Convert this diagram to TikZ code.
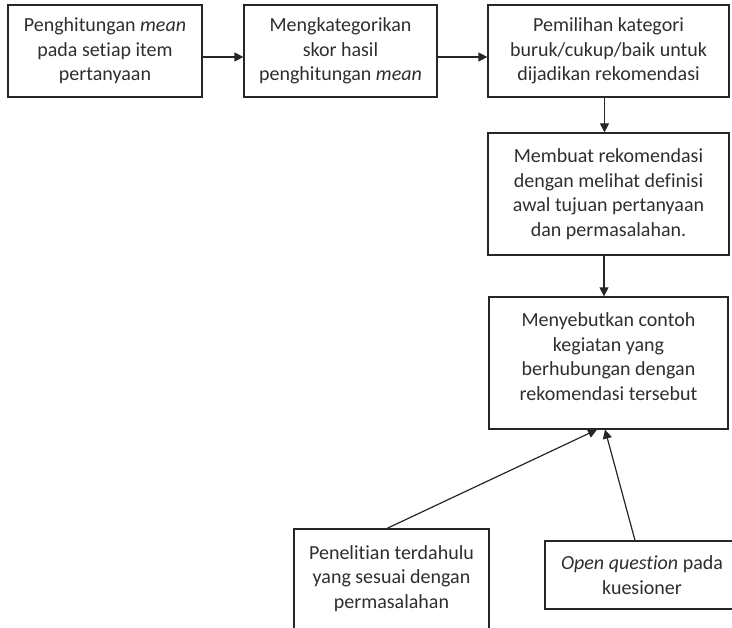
\documentclass[tikz,border=0pt]{standalone}
\usepackage{fontspec}
\setmainfont{Carlito}[Ligatures=NoCommon]
\usetikzlibrary{arrows.meta}
\definecolor{ink}{HTML}{262626}
\definecolor{txt}{HTML}{2E2E2E}
\begin{document}
\begin{tikzpicture}[x=1pt,y=-1pt,
  box/.style={draw=ink,line width=1.2pt,rectangle,align=center,inner sep=0pt,
    text=txt,font=\fontsize{20}{24.5}\selectfont},
  flow/.style={draw=ink,line width=1.2pt,-{Triangle[length=9pt,width=9pt]}}]
\useasboundingbox (0,0) rectangle (732,628);
\clip (0,0) rectangle (732,628);
% top row
\node[box,minimum width=194pt,minimum height=92pt] (b1) at (105,51)
  {Penghitungan \textit{mean}\\pada setiap item\\pertanyaan};
\node[box,minimum width=193pt,minimum height=92pt] (b2) at (340.5,51)
  {Mengkategorikan\\skor hasil\\penghitungan \textit{mean}};
\node[box,minimum width=241pt,minimum height=92pt] (b3) at (608.5,51)
  {Pemilihan kategori\\buruk/cukup/baik untuk\\dijadikan rekomendasi};
% right column
\node[box,minimum width=241pt,minimum height=122pt] (b4) at (608.5,194)
  {Membuat rekomendasi\\dengan melihat definisi\\awal tujuan pertanyaan\\dan permasalahan.};
\node[box,minimum width=239pt,minimum height=132pt] (b5) at (608.5,363)
  {Menyebutkan contoh\\kegiatan yang\\berhubungan dengan\\rekomendasi tersebut\\[-12pt]\mbox{}};
% sources at the bottom
\node[box,minimum width=195pt,minimum height=120pt] (b6) at (391.5,589)
  {Penelitian terdahulu\\yang sesuai dengan\\permasalahan\\\mbox{}};
\node[box,minimum width=194pt,minimum height=68pt] (b7) at (642,575)
  {\textit{Open question} pada\\kuesioner};
% connectors
\draw[flow] ([yshift=-6pt]b1.east) -- ([yshift=-6pt]b2.west);
\draw[flow] ([yshift=-6pt]b2.east) -- ([yshift=-6pt]b3.west);
\draw[flow] ([xshift=-4pt]b3.south) -- ([xshift=-4pt]b4.north);
\draw[flow] ([xshift=-4.5pt]b4.south) -- ([xshift=-4.5pt]b5.north);
\draw[flow] ([xshift=-4.5pt]b6.north) -- ([xshift=-11.5pt]b5.south);
\draw[flow] ([xshift=-7pt]b7.north) -- ([xshift=-3.5pt]b5.south);
\end{tikzpicture}
\end{document}
